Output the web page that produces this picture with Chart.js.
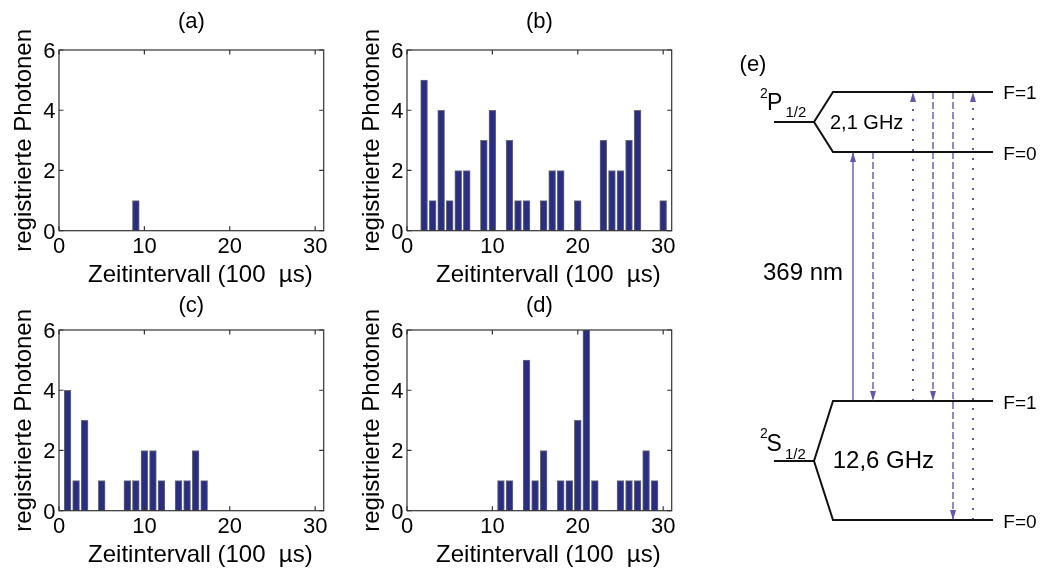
<!DOCTYPE html>
<html>
<head>
<meta charset="utf-8">
<script src="https://cdn.jsdelivr.net/npm/chart.js@4.4.1/dist/chart.umd.min.js"></script>
<style>
  html, body { margin: 0; padding: 0; background: #fff; }
  #page { position: relative; width: 1042px; height: 570px; overflow: hidden; }
  canvas { position: absolute; }
</style>
</head>
<body>
<div id="page">
  <canvas id="hist-a" width="344" height="290" style="left:0;top:0"></canvas>
  <canvas id="hist-b" width="344" height="290" style="left:348px;top:0"></canvas>
  <canvas id="hist-c" width="344" height="290" style="left:0;top:280px"></canvas>
  <canvas id="hist-d" width="344" height="290" style="left:348px;top:280px"></canvas>
  <canvas id="levels" width="342" height="505" style="left:700px;top:40px"></canvas>
</div>
<script>
// Histogramme: Zeitintervall-Bins und registrierte Photonen pro Bin
const BINS     = [1,2,3,4,5,6,7,8,9,10,11,12,13,14,15,16,17,18,19,20,21,22,23,24,25,26,27,28,29,30];
const COUNTS_A = [0,0,0,0,0,0,0,0,1,0,0,0,0,0,0,0,0,0,0,0,0,0,0,0,0,0,0,0,0,0];
const COUNTS_B = [0,5,1,4,1,2,2,0,3,4,0,3,1,1,0,1,2,2,0,1,0,0,3,2,2,3,4,0,0,1];
const COUNTS_C = [4,1,3,0,1,0,0,1,1,2,2,1,0,1,1,2,1,0,0,0,0,0,0,0,0,0,0,0,0,0];
const COUNTS_D = [0,0,0,0,0,0,0,0,0,0,1,1,0,5,1,2,0,1,1,3,6,1,0,0,1,1,1,2,1,0];
const X_TICKS_STEP = 10, X_MAX = 31;
const Y_TICKS_STEP = 2,  Y_MAX = 6;
const X_TITLE = "Zeitintervall (100  µs)";
const Y_TITLE = "registrierte Photonen";

// Termschema (e): Niveaus und Übergänge, in Diagramm-Einheiten
const LEVEL_KEYS = ["P1", "P0", "S1", "S0"];
const LEVEL_Y    = [453, 393, 144, 25];
const SPLIT_Y    = { P: 423, S: 84 };
const ARROW_X     = [153, 173, 213, 233, 253, 273];
const ARROW_FROM  = ["S1", "P0", "S1", "P1", "P1", "S0"];
const ARROW_TO    = ["P0", "S1", "P1", "S1", "S0", "P1"];
const ARROW_STYLE = ["solid", "dashed", "dotted", "dashed", "dashed", "dotted"];

const FONT = "'Liberation Sans', Arial, Helvetica, sans-serif";
const BAR_FILL = "#2a2e80", BAR_EDGE = "#6c6c78", FRAME = "#333";
const ARROW_COLOR = "#6656ab";

// Plotbereich jedes Histogramms (Pixel im Canvas)
const PLOT_LEFT = 59, PLOT_TOP = 50, PLOT_W = 264.7, PLOT_H = 180.7;
const TICK_LEN = 4.5, TICK_FONT = 22;

const levelY = k => LEVEL_Y[LEVEL_KEYS.indexOf(k)];

// MATLAB-artiger Rahmen mit Innen-Ticks, Tick-Beschriftung und Titeln
const matlabFrame = {
  id: "matlabFrame",
  afterDraw(chart, args, opts) {
    const { ctx, chartArea: a, scales } = chart;
    ctx.save();
    ctx.strokeStyle = FRAME;
    ctx.lineWidth = 1.2;
    ctx.strokeRect(a.left, a.top, a.right - a.left, a.bottom - a.top);
    ctx.beginPath();
    scales.x.ticks.forEach(t => {
      const px = scales.x.getPixelForValue(t.value);
      ctx.moveTo(px, a.bottom); ctx.lineTo(px, a.bottom - TICK_LEN);
      ctx.moveTo(px, a.top);    ctx.lineTo(px, a.top + TICK_LEN);
    });
    scales.y.ticks.forEach(t => {
      const py = scales.y.getPixelForValue(t.value);
      ctx.moveTo(a.left, py);  ctx.lineTo(a.left + TICK_LEN, py);
      ctx.moveTo(a.right, py); ctx.lineTo(a.right - TICK_LEN, py);
    });
    ctx.stroke();

    ctx.fillStyle = "#000";
    ctx.font = `${TICK_FONT}px ${FONT}`;
    ctx.textBaseline = "alphabetic";
    ctx.textAlign = "center";
    scales.x.ticks.forEach(t => {
      if (t.value % X_TICKS_STEP !== 0) return;
      ctx.fillText(String(t.value), scales.x.getPixelForValue(t.value), a.bottom + 22.5);
    });
    ctx.textAlign = "right";
    scales.y.ticks.forEach(t => {
      ctx.fillText(String(t.value), a.left - 3.5, scales.y.getPixelForValue(t.value) + 7.8);
    });

    const cx = (a.left + a.right) / 2;
    ctx.textAlign = "center";
    ctx.textBaseline = "middle";
    ctx.font = `22px ${FONT}`;
    ctx.fillText(opts.title, cx, a.top - opts.titleGap);
    ctx.font = `24px ${FONT}`;
    ctx.fillText(X_TITLE, cx + 9, a.bottom + 45);
    ctx.translate(a.left - 35, (a.top + a.bottom) / 2);
    ctx.rotate(-Math.PI / 2);
    ctx.fillText(Y_TITLE, 0, 0);
    ctx.restore();
  }
};

function histogram(id, counts, title, titleGap) {
  const canvas = document.getElementById(id);
  const barPx = PLOT_W / X_MAX * 0.8;
  return new Chart(canvas, {
    type: "bar",
    data: {
      datasets: [{
        data: BINS.map((b, i) => ({ x: b, y: counts[i] > 0 ? counts[i] : null })),
        backgroundColor: BAR_FILL,
        borderColor: BAR_EDGE,
        borderWidth: 1,
        borderSkipped: false,
        barThickness: barPx,
      }]
    },
    options: {
      responsive: false,
      animation: false,
      devicePixelRatio: 1,
      events: [],
      layout: { padding: { left: 0, top: PLOT_TOP, right: canvas.width - PLOT_LEFT - PLOT_W, bottom: 0 } },
      plugins: { legend: { display: false }, tooltip: { enabled: false }, matlabFrame: { title, titleGap } },
      scales: {
        x: {
          type: "linear", min: 0, max: X_MAX, offset: false,
          grid: { display: false }, border: { display: false },
          ticks: { display: false, stepSize: X_TICKS_STEP, includeBounds: false },
          afterFit: s => { s.height = canvas.height - PLOT_TOP - PLOT_H; }
        },
        y: {
          min: 0, max: Y_MAX,
          grid: { display: false }, border: { display: false },
          ticks: { display: false, stepSize: Y_TICKS_STEP },
          afterFit: s => { s.width = PLOT_LEFT; }
        }
      }
    },
    plugins: [matlabFrame]
  });
}

histogram("hist-a", COUNTS_A, "(a)", 28);
histogram("hist-b", COUNTS_B, "(b)", 28);
histogram("hist-c", COUNTS_C, "(c)", 24);
histogram("hist-d", COUNTS_D, "(d)", 24);

// Termschema
const HEAD_LEN = 10, HEAD_HALF = 3;
const DIAGRAM_TEXT = [
  { t: "(e)",      x: 53,    y: 480,   size: 22, align: "center", base: "middle" },
  { t: "2",        x: 60,    y: 447,   size: 14, align: "left",   base: "alphabetic" },
  { t: "P",        x: 67,    y: 435,   size: 23, align: "left",   base: "alphabetic" },
  { t: "1/2",      x: 85.5,  y: 428,   size: 15, align: "left",   base: "alphabetic" },
  { t: "2",        x: 60,    y: 107,   size: 14, align: "left",   base: "alphabetic" },
  { t: "S",        x: 66.5,  y: 94,    size: 23, align: "left",   base: "alphabetic" },
  { t: "1/2",      x: 85,    y: 86,    size: 15, align: "left",   base: "alphabetic" },
  { t: "2,1 GHz",  x: 130,   y: 422,   size: 20, align: "left",   base: "middle" },
  { t: "12,6 GHz", x: 132.7, y: 83.3,  size: 24, align: "left",   base: "middle" },
  { t: "369 nm",   x: 63,    y: 272,   size: 24, align: "left",   base: "middle" },
  { t: "F=1",      x: 303.3, y: 451,   size: 19, align: "left",   base: "middle" },
  { t: "F=0",      x: 303.3, y: 390,   size: 19, align: "left",   base: "middle" },
  { t: "F=1",      x: 303.3, y: 141.5, size: 19, align: "left",   base: "middle" },
  { t: "F=0",      x: 303.3, y: 22.5,  size: 19, align: "left",   base: "middle" },
];

const diagramDecor = {
  id: "diagramDecor",
  afterDatasetsDraw(chart) {
    const { ctx, scales: { x, y } } = chart;
    chart.data.datasets.forEach((ds, i) => {
      if (!ds.arrow) return;
      const pts = chart.getDatasetMeta(i).data;
      const tip = pts[pts.length - 1], prev = pts[pts.length - 2];
      const ang = Math.atan2(tip.y - prev.y, tip.x - prev.x);
      ctx.save();
      ctx.translate(tip.x, tip.y);
      ctx.rotate(ang);
      ctx.beginPath();
      ctx.moveTo(0, 0);
      ctx.lineTo(-HEAD_LEN, -HEAD_HALF);
      ctx.lineTo(-HEAD_LEN, HEAD_HALF);
      ctx.closePath();
      ctx.fillStyle = ARROW_COLOR;
      ctx.fill();
      ctx.restore();
    });
    ctx.save();
    ctx.fillStyle = "#000";
    DIAGRAM_TEXT.forEach(d => {
      ctx.font = `${d.size}px ${FONT}`;
      ctx.textAlign = d.align;
      ctx.textBaseline = d.base;
      ctx.fillText(d.t, x.getPixelForValue(d.x), y.getPixelForValue(d.y));
    });
    ctx.restore();
  }
};

const LEVEL_X0 = 133, LEVEL_X1 = 293, SPLIT_X = 114, STUB_X = 74;
const line = (pts, extra) => Object.assign({
  data: pts, showLine: true, pointRadius: 0, borderColor: "#111", borderWidth: 2,
  fill: false, tension: 0, clip: false
}, extra);

const levelDatasets = ["P", "S"].flatMap(term => {
  const hi = levelY(term + "1"), lo = levelY(term + "0"), mid = SPLIT_Y[term];
  return [
    line([{ x: LEVEL_X1, y: hi }, { x: LEVEL_X0, y: hi }, { x: SPLIT_X, y: mid },
          { x: LEVEL_X0, y: lo }, { x: LEVEL_X1, y: lo }]),
    line([{ x: STUB_X, y: mid }, { x: SPLIT_X, y: mid }]),
  ];
});

const DASH  = { solid: [], dashed: [7, 3], dotted: [2, 8] };
const WIDTH = { solid: 1.4, dashed: 1.4, dotted: 2 };
const arrowDatasets = ARROW_X.map((ax, i) => line(
  [{ x: ax, y: levelY(ARROW_FROM[i]) }, { x: ax, y: levelY(ARROW_TO[i]) }],
  { borderColor: ARROW_COLOR, borderWidth: WIDTH[ARROW_STYLE[i]], borderDash: DASH[ARROW_STYLE[i]], arrow: true }
));

new Chart(document.getElementById("levels"), {
  type: "scatter",
  data: { datasets: [...levelDatasets, ...arrowDatasets] },
  options: {
    responsive: false,
    animation: false,
    devicePixelRatio: 1,
    events: [],
    layout: { padding: 0 },
    plugins: { legend: { display: false }, tooltip: { enabled: false } },
    scales: {
      x: { type: "linear", min: 0, max: 342, display: false },
      y: { type: "linear", min: 0, max: 505, display: false }
    }
  },
  plugins: [diagramDecor]
});
</script>
</body>
</html>
